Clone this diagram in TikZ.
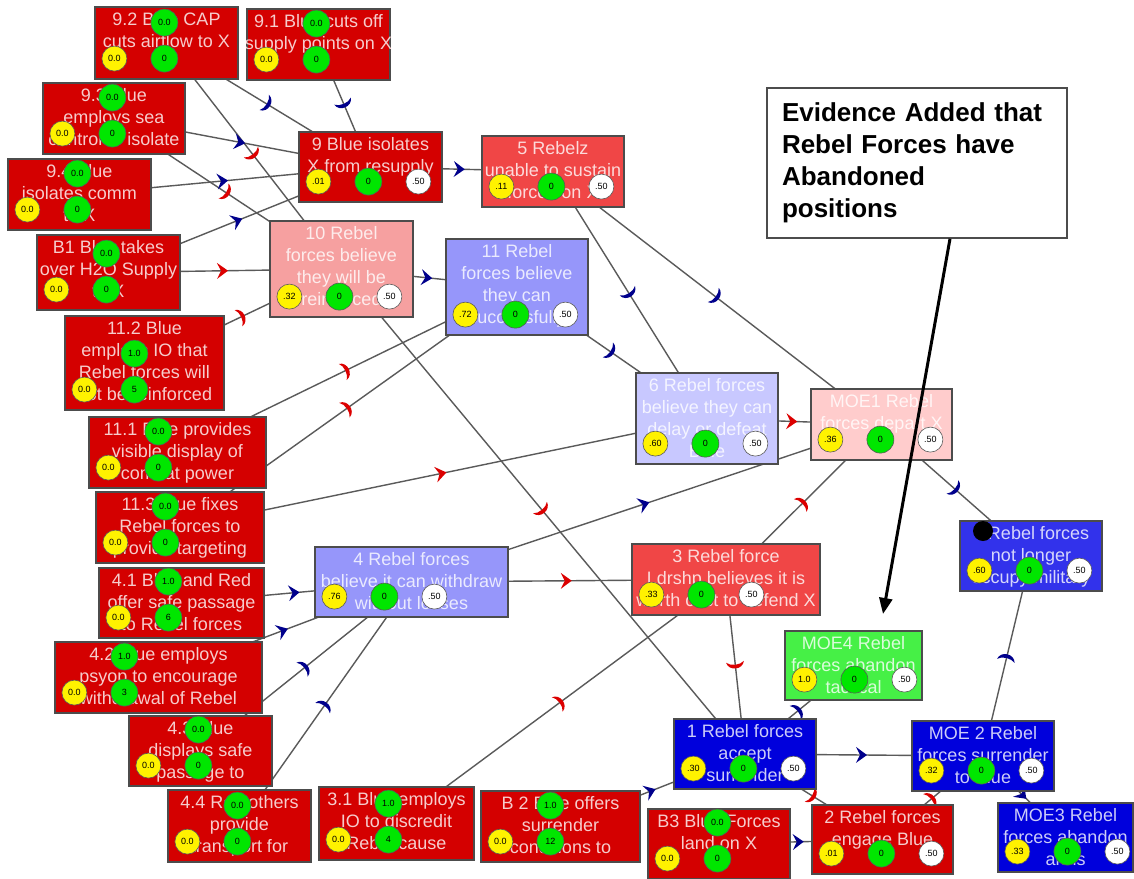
\documentclass[tikz,border=0pt]{standalone}
\usepackage{fontspec}
\setmainfont{Liberation Sans}
\usetikzlibrary{arrows.meta, decorations.markings}

\definecolor{boxred}{RGB}{212,0,0}
\definecolor{lightred}{RGB}{240,70,70}
\definecolor{pinkred}{RGB}{246,160,160}
\definecolor{palered}{RGB}{255,204,204}
\definecolor{boxviolet}{RGB}{150,150,250}
\definecolor{boxlilac}{RGB}{200,200,255}
\definecolor{boxblue}{RGB}{0,0,220}
\definecolor{midblue}{RGB}{50,50,235}
\definecolor{boxgreen}{RGB}{70,240,70}
\definecolor{dotgreen}{RGB}{0,230,0}
\definecolor{linegray}{RGB}{90,90,90}
\definecolor{markred}{RGB}{220,0,0}
\definecolor{markblue}{RGB}{0,0,140}

\pgfdeclarelayer{background}
\pgfsetlayers{background,main}

\tikzset{
  gbox/.style={rectangle, draw=gray!60!black, line width=1.2pt, inner sep=0pt},
  gtext/.style={anchor=north, align=center, inner sep=0pt, font=\fontsize{18}{22}\selectfont},
  ycirc/.style={circle, draw=gray!70!black, line width=0.6pt, fill=yellow, minimum size=25pt, inner sep=0pt, font=\fontsize{9}{9}\selectfont},
  gcirc/.style={ycirc, fill=dotgreen, minimum size=27pt},
  wcirc/.style={ycirc, fill=white},
  link/.style={draw=linegray, line width=1.4pt},
  % chevron in the middle of a link
  promote/.style={link, postaction={decorate, decoration={markings, mark=at position 0.5 with {%
    \fill[#1] (-8pt,-8pt) -- (3pt,0pt) -- (-8pt,8pt) -- (-4pt,0pt) -- cycle;}}}},
  % crescent in the middle of a link
  inhibit/.style={link, postaction={decorate, decoration={markings, mark=at position 0.5 with {%
    \fill[#1] (-5pt,-9pt) .. controls (4pt,-7pt) and (4pt,7pt) .. (-5pt,9pt)
      .. controls (-1pt,5pt) and (-1pt,-5pt) .. cycle;}}}},
  evbox/.style={rectangle, draw=gray!60!black, line width=1.5pt, fill=white, minimum width=300pt, minimum height=150pt, text width=270pt, align=left, font=\fontsize{26}{32}\selectfont\bfseries},
  evarrow/.style={draw=black, line width=3pt, -{Triangle[length=16pt, width=13pt]}}
}

% box with clipped text: name, left, top, right, bottom, fill, text
\newcommand{\gnode}[7]{%
  \pgfmathsetmacro{\gboxw}{#4-#2}%
  \pgfmathsetmacro{\gboxh}{#5-#3}%
  \node[gbox, fill=#6, minimum width=\gboxw pt, minimum height=\gboxh pt] (#1) at ({(#2+#4)/2},{(#3+#5)/2}) {};
  \begin{scope}
    \clip (#1.south west) rectangle (#1.north east);
    \node[gtext, text=#6!20!white] at ([yshift=-6pt]#1.north) {#7};
  \end{scope}}
% values of an input box
\newcommand{\invals}[4]{%
  \node[gcirc] (#1t) at ([shift={(70,-57)}]#1.south west) {#2};
  \node[ycirc] (#1y) at ([shift={(20,-21)}]#1.south west) {#3};
  \node[gcirc] (#1g) at ([shift={(70,-21)}]#1.south west) {#4};}
% values of an inner box
\newcommand{\outvals}[4]{%
  \node[ycirc] (#1y) at ([shift={(20,-21)}]#1.south west) {#2};
  \node[gcirc] (#1g) at ([shift={(70,-21)}]#1.south west) {#3};
  \node[wcirc] (#1w) at ([shift={(120,-21)}]#1.south west) {#4};}

\begin{document}
\begin{tikzpicture}[x=1pt, y=-1pt]
    \useasboundingbox (0,0) rectangle (1134,878);

    % inputs
    \gnode{n92}{95}{7}{238}{79}{boxred}{9.2 Blue CAP\\cuts airflow to X}
    \invals{n92}{0.0}{0.0}{0}
    \gnode{n91}{247}{9}{390}{80}{boxred}{9.1 Blue cuts off\\supply points on X}
    \invals{n91}{0.0}{0.0}{0}
    \gnode{n93}{43}{83}{185}{154}{boxred}{9.3 Blue\\employs sea\\control to isolate}
    \invals{n93}{0.0}{0.0}{0}
    \gnode{n94}{8}{159}{151}{230}{boxred}{9.4 Blue\\isolates comm\\to X}
    \invals{n94}{0.0}{0.0}{0}
    \gnode{nB1}{37}{235}{180}{310}{boxred}{B1 Blue takes\\over H2O Supply\\to X}
    \invals{nB1}{0.0}{0.0}{0}
    \gnode{n112}{65}{316}{224}{410}{boxred}{11.2 Blue\\employs IO that\\Rebel forces will\\not be reinforced}
    \invals{n112}{1.0}{0.0}{5}
    \gnode{n111}{89}{417}{266}{488}{boxred}{11.1 Blue provides\\visible display of\\combat power}
    \invals{n111}{0.0}{0.0}{0}
    \gnode{n113}{96}{492}{264}{563}{boxred}{11.3 Blue fixes\\Rebel forces to\\provide targeting}
    \invals{n113}{0.0}{0.0}{0}
    \gnode{n41}{99}{568}{264}{638}{boxred}{4.1 Blue and Red\\offer safe passage\\to Rebel forces}
    \invals{n41}{1.0}{0.0}{6}
    \gnode{n42}{55}{642}{262}{713}{boxred}{4.2 Blue employs\\psyop to encourage\\withdrawal of Rebel}
    \invals{n42}{1.0}{0.0}{3}
    \gnode{n43}{129}{716}{272}{786}{boxred}{4.3 Blue\\displays safe\\passage to}
    \invals{n43}{0.0}{0.0}{0}
    \gnode{n44}{168}{790}{311}{862}{boxred}{4.4 Red others\\provide\\transport for}
    \invals{n44}{0.0}{0.0}{0}
    \gnode{n31}{319}{787}{474}{860}{boxred}{3.1 Blue employs\\IO to discredit\\Rebel cause}
    \invals{n31}{1.0}{0.0}{4}
    \gnode{nB2}{481}{791}{640}{862}{boxred}{B 2 Blue offers\\surrender\\conditions to}
    \invals{nB2}{1.0}{0.0}{12}
    \gnode{nB3}{648}{809}{790}{879}{boxred}{B3 Blue Forces\\land on X}
    \invals{nB3}{0.0}{0.0}{0}

    % beliefs and effects
    \gnode{n9}{299}{132}{442}{202}{boxred}{9 Blue isolates\\X from resupply}
    \outvals{n9}{.01}{0}{.50}
    \gnode{n5}{482}{136}{624}{207}{lightred}{5 Rebelz\\unable to sustain\\forces on X}
    \outvals{n5}{.11}{0}{.50}
    \gnode{n10}{270}{221}{413}{317}{pinkred}{10 Rebel\\forces believe\\they will be\\reinforced}
    \outvals{n10}{.32}{0}{.50}
    \gnode{n11}{446}{239}{588}{335}{boxviolet}{11 Rebel\\forces believe\\they can\\successfully}
    \outvals{n11}{.72}{0}{.50}
    \gnode{n6}{636}{373}{778}{464}{boxlilac}{6 Rebel forces\\believe they can\\delay or defeat\\Blue}
    \outvals{n6}{.60}{0}{.50}
    \gnode{nMOE1}{811}{389}{952}{460}{palered}{MOE1 Rebel\\forces depart X}
    \outvals{nMOE1}{.36}{0}{.50}
    \gnode{n4}{315}{547}{508}{617}{boxviolet}{4 Rebel forces\\believe it can withdraw\\without losses}
    \outvals{n4}{.76}{0}{.50}
    \gnode{n3}{632}{544}{820}{615}{lightred}{3 Rebel force\\Ldrshp believes it is\\worth cost to defend X}
    \outvals{n3}{.33}{0}{.50}
    \gnode{n7}{960}{521}{1102}{591}{midblue}{\phantom{0} Rebel forces\\not longer\\occupy military}
    \outvals{n7}{.60}{0}{.50}
    \gnode{nMOE4}{785}{631}{922}{700}{boxgreen}{MOE4 Rebel\\forces abandon\\tactical}
    \outvals{nMOE4}{1.0}{0}{.50}
    \gnode{n1}{674}{719}{816}{789}{boxblue}{1 Rebel forces\\accept\\surrender}
    \outvals{n1}{.30}{0}{.50}
    \gnode{nMOE2}{912}{721}{1054}{791}{boxblue}{MOE 2 Rebel\\forces surrender\\to Blue}
    \outvals{nMOE2}{.32}{0}{.50}
    \gnode{n2}{812}{805}{953}{874}{boxred}{2 Rebel forces\\engage Blue}
    \outvals{n2}{.01}{0}{.50}
    \gnode{nMOE3}{998}{803}{1133}{872}{boxblue}{MOE3 Rebel\\forces abandon\\arms}
    \outvals{nMOE3}{.33}{0}{.50}

    \node[circle, fill=black, minimum size=20pt, inner sep=0pt] (cursor) at (983,531) {};

    % evidence note
    \node[evbox] (ev) at (917,163) {Evidence Added that\\Rebel Forces have\\Abandoned\\positions};
    \coordinate (evtip) at (883,614);
    \draw[evarrow] ([xshift=33pt]ev.south) -- (evtip);

    % links
    \begin{pgfonlayer}{background}
    \fill[white] (0,0) rectangle (1134,878);
    \draw[inhibit=markblue] (n92.center) -- (n9.center);
    \draw[inhibit=markblue] (n91.center) -- (n9.center);
    \draw[inhibit=markred] (n92.center) -- (n10.center);
    \draw[inhibit=markred] (n93.center) -- (n10.center);
    \draw[promote=markblue] (n93.center) -- (n9.center);
    \draw[promote=markblue] (n94.center) -- (n9.center);
    \draw[promote=markblue] (nB1.center) -- (n9.center);
    \draw[promote=markred] (nB1.center) -- (n10.center);
    \draw[inhibit=markred] (n112.center) -- (n10.center);
    \draw[promote=markblue] (n9.center) -- (n5.center);
    \draw[promote=markblue] (n10.center) -- (n11.center);
    \draw[inhibit=markred] (n111.center) -- (n11.center);
    \draw[inhibit=markred] (n113.center) -- (n11.center);
    \draw[inhibit=markblue] (n5.center) -- (n6.center);
    \draw[inhibit=markblue] (n5.center) -- (nMOE1.center);
    \draw[inhibit=markblue] (n11.center) -- (n6.center);
    \draw[promote=markred] (n6.center) -- (nMOE1.center);
    \draw[promote=markred] (n113.center) -- (n6.center);
    \draw[promote=markblue] (n4.center) -- (nMOE1.center);
    \draw[inhibit=markred] (n10.center) -- (n1.center);
    \draw[promote=markred] (n4.center) -- (n3.center);
    \draw[inhibit=markred] (n3.center) -- (nMOE1.center);
    \draw[inhibit=markblue] (nMOE1.center) -- (n7.center);
    \draw[inhibit=markblue] (nMOE2.center) -- (n7.center);
    \draw[inhibit=markred] (n3.center) -- (n1.center);
    \draw[inhibit=markred] (n31.center) -- (n3.center);
    \draw[promote=markblue] (nB2.center) -- (n1.center);
    \draw[inhibit=markblue] (n1.center) -- (nMOE4.center);
    \draw[promote=markblue] (n1.center) -- (nMOE2.center);
    \draw[inhibit=markred] (n1.center) -- (n2.center);
    \draw[inhibit=markred] (n2.center) -- (nMOE2.center);
    \draw[promote=markblue] (nMOE2.center) -- (nMOE3.center);
    \draw[promote=markblue] (nB3.center) -- (n2.center);
    \draw[promote=markblue] (n41.center) -- (n4.center);
    \draw[promote=markblue] (n42.center) -- (n4.center);
    \draw[inhibit=markblue] (n43.center) -- (n4.center);
    \draw[inhibit=markblue] (n44.center) -- (n4.center);
    \end{pgfonlayer}
\end{tikzpicture}
\end{document}
